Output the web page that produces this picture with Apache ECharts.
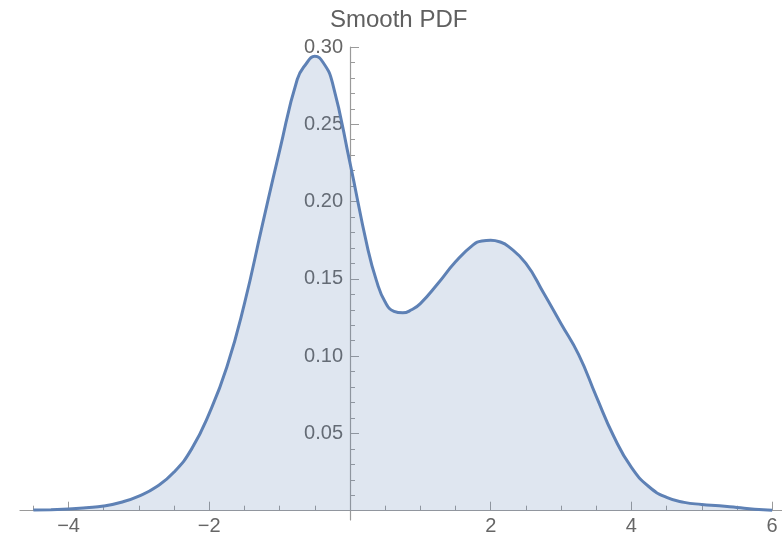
<!DOCTYPE html>
<html>
<head>
<meta charset="utf-8">
<script src="https://cdn.jsdelivr.net/npm/echarts@6/dist/echarts.min.js"></script>
<style>
  html, body { margin: 0; padding: 0; background: #fff; }
  #chart { width: 782px; height: 539px; }
</style>
</head>
<body>
<div id="chart"></div>
<script>
// sample points
var xs = [-4.5, -4.25, -4, -3.75, -3.5, -3.25, -3, -2.75, -2.5, -2.25, -2, -1.75, -1.5, -1.25, -1,
  -0.75, -0.625, -0.5, -0.375, -0.25, 0, 0.25, 0.375, 0.5, 0.625, 0.75, 0.875, 1, 1.25, 1.5, 1.75, 1.875, 2, 2.125, 2.25,
  2.5, 2.75, 3, 3.25, 3.5, 3.75, 4, 4.25, 4.5, 4.75, 5, 5.25, 5.5, 5.75, 6]
var density = [0.0004, 0.0007, 0.0011, 0.0019, 0.003, 0.0055, 0.0095, 0.0155, 0.025, 0.040, 0.063, 0.093, 0.134, 0.184, 0.233,
  0.279, 0.289, 0.294, 0.2895, 0.277, 0.225, 0.170, 0.149, 0.135, 0.129, 0.128, 0.130, 0.134, 0.147, 0.161, 0.172, 0.1745, 0.175, 0.174, 0.171,
  0.160, 0.141, 0.121, 0.101, 0.074, 0.048, 0.028, 0.0155, 0.0086, 0.0054, 0.0041, 0.0032, 0.0021, 0.001, 0.0003]

var xMajorTicks = [-4, -2, 2, 4, 6]
var xMinorTicks = [-4.5, -3.5, -3, -2.5, -1.5, -1, -0.5, 0.5, 1, 1.5, 2.5, 3, 3.5, 4.5, 5, 5.5]
var yMajorTicks = [0.05, 0.10, 0.15, 0.20, 0.25, 0.30]
var yMinorTicks = [0.01, 0.02, 0.03, 0.04, 0.06, 0.07, 0.08, 0.09, 0.11, 0.12, 0.13, 0.14,
  0.16, 0.17, 0.18, 0.19, 0.21, 0.22, 0.23, 0.24, 0.26, 0.27, 0.28, 0.29]

var font = "'Liberation Sans', Arial, sans-serif"
var axisGray = '#9a9a9a'
var labelGray = '#666666'

var chart = echarts.init(document.getElementById('chart'))

var xRange = { min: -4.69, max: 6.14 }
var yRange = { min: -0.006, max: 0.3 }
// axes cross at the origin, not at the grid edges
var yAxisShift = -330
var xAxisShift = -9.3

chart.setOption({
  animation: false,
  title: {
    text: 'Smooth PDF',
    left: 325,
    top: 3,
    textStyle: { fontFamily: font, fontSize: 24, fontWeight: 'normal', color: '#606060' }
  },
  grid: { left: 20, right: 0, top: 47, bottom: 19, containLabel: false, outerBoundsMode: 'none' },
  xAxis: [{
    type: 'value',
    min: xRange.min,
    max: xRange.max,
    position: 'bottom',
    offset: xAxisShift,
    axisLine: { onZero: false, lineStyle: { color: axisGray, width: 1.2 } },
    axisTick: { inside: true, length: 9, customValues: xMajorTicks, lineStyle: { color: axisGray } },
    axisLabel: {
      customValues: xMajorTicks,
      margin: 6,
      fontFamily: font,
      fontSize: 20,
      color: labelGray,
      formatter: function (v) { return String(v).replace('-', '\u2212') }
    },
    splitLine: { show: false }
  }, {
    // minor ticks
    type: 'value',
    min: xRange.min,
    max: xRange.max,
    position: 'bottom',
    offset: xAxisShift,
    axisLine: { show: false, onZero: false },
    axisTick: { inside: true, length: 5, customValues: xMinorTicks, lineStyle: { color: axisGray } },
    axisLabel: { show: false },
    splitLine: { show: false }
  }],
  yAxis: [{
    type: 'value',
    min: yRange.min,
    max: yRange.max,
    position: 'left',
    offset: yAxisShift,
    axisLine: { show: true, onZero: false, lineStyle: { color: axisGray, width: 1.2 } },
    axisTick: { show: true, inside: true, length: 9, customValues: yMajorTicks, lineStyle: { color: axisGray } },
    axisLabel: {
      customValues: yMajorTicks,
      margin: 7,
      fontFamily: font,
      fontSize: 20,
      color: labelGray,
      formatter: function (v) { return v.toFixed(2) }
    },
    splitLine: { show: false }
  }, {
    type: 'value',
    min: yRange.min,
    max: yRange.max,
    position: 'left',
    offset: yAxisShift,
    axisLine: { show: false, onZero: false },
    axisTick: { show: true, inside: true, length: 5, customValues: yMinorTicks, lineStyle: { color: axisGray } },
    axisLabel: { show: false },
    splitLine: { show: false }
  }],
  series: [{
    type: 'line',
    xAxisIndex: 0,
    yAxisIndex: 0,
    data: xs.map(function (x, i) { return [x, density[i]] }),
    smooth: true,
    showSymbol: false,
    lineStyle: { color: '#5E81B5', width: 3 },
    itemStyle: { color: '#5E81B5' },
    areaStyle: { color: '#5E81B5', opacity: 0.2 }
  }]
})
</script>
</body>
</html>
